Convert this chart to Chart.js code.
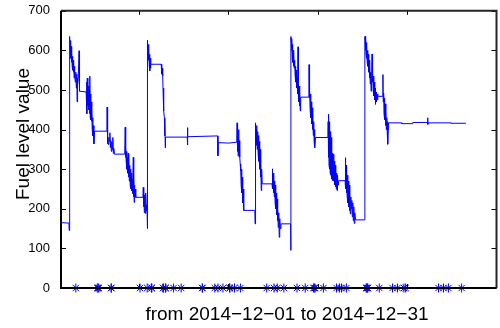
<!DOCTYPE html>
<html>
<head>
<meta charset="utf-8">
<script src="https://cdn.jsdelivr.net/npm/chart.js@4.4.1/dist/chart.umd.min.js"></script>
<style>
    html, body { margin: 0; padding: 0; background: #fff; overflow: hidden; }
    canvas { display: block; }
</style>
</head>
<body>
<canvas id="fuelChart" width="502" height="328"></canvas>
<script>
'use strict';

// time index (t) and fuel level readings, one array per tank cycle
var cycle1 = [
    [0, 165], [8, 164], [8.3, 145], [8.5, 635],
    [9, 630], [9.3, 600], [9.6, 625], [10, 580], [10.3, 610], [10.6, 570], [11, 595], [11.3, 560],
    [11.6, 585], [12, 550], [12.3, 575], [12.6, 545], [13, 570], [13.3, 530], [13.6, 560], [14, 540],
    [14.5, 520], [15, 545], [15.5, 505], [16, 540], [16.3, 470], [16.6, 530], [17, 515], [17.5, 530],
    [18.3, 599], [18.5, 510], [19, 497], [25.5, 495],
    [26, 520], [26.3, 440], [26.6, 530], [27, 460], [27.3, 525], [27.6, 470], [28, 510], [28.3, 450],
    [28.6, 500], [29, 440], [29.3, 535], [29.6, 430], [30, 490], [30.3, 425], [30.6, 470], [31, 421],
    [31.3, 455], [31.6, 400], [32, 430], [32.4, 384], [32.8, 410], [33.3, 364], [34, 396],
    [46.5, 396], [46.7, 457], [46.9, 364], [47.2, 390],
    [47.5, 385], [48, 362], [48.5, 380], [49, 370], [49.5, 392], [50, 355], [50.5, 372], [51, 345],
    [51.5, 368], [52, 350], [52.5, 380], [53, 340], [53.5, 352], [54, 338], [64.5, 338],
    [65, 406], [65.3, 330], [65.7, 355], [66, 320], [66.4, 345], [66.8, 300], [67.2, 330], [67.6, 290],
    [68, 340], [68.4, 280], [68.8, 325], [69.2, 270], [69.6, 310], [70, 262], [70.4, 300], [70.8, 250],
    [71.2, 290], [71.6, 245], [72, 275], [72.4, 238], [72.8, 260],
    [73.2, 330], [73.5, 230], [73.8, 283], [74.1, 216], [74.4, 260], [74.7, 228], [75.2, 250], [75.7, 229],
    [83, 229], [83.3, 254], [83.6, 205], [84, 245], [84.4, 190], [84.8, 235], [85.2, 200], [85.6, 188],
    [86, 240], [86.4, 195], [86.8, 210], [87.2, 190], [87.4, 150]
];

var cycle2 = [
    [87.4, 626], [87.6, 610], [87.9, 626], [88.2, 590], [88.5, 615], [88.8, 575], [89.1, 605], [89.4, 560],
    [89.7, 590], [90, 548], [90.4, 580], [90.7, 555], [91, 565], [101.5, 565],
    [102, 540], [102.5, 555], [103, 535], [103.3, 505], [103.6, 450], [104, 490], [104.3, 447],
    [104.7, 430], [105, 384], [105.3, 420], [105.6, 354], [105.8, 381],
    [127.8, 381], [128, 405], [128.2, 361], [128.5, 382], [158.7, 384],
    [158.9, 334], [159.2, 367], [170, 366], [177.5, 368],
    [178, 372], [178.3, 417], [178.6, 345], [179, 410], [179.4, 333], [179.8, 400], [180.2, 340],
    [180.6, 372], [181, 330], [181.5, 313], [182, 295], [182.4, 260], [182.8, 300], [183.2, 240],
    [183.6, 280], [184, 215], [184.4, 250], [184.8, 203], [185.3, 196], [196.3, 196], [196.5, 162]
];

var cycle3 = [
    [196.7, 417], [197, 380], [197.3, 346], [197.6, 400], [198, 360], [198.4, 410], [198.8, 350],
    [199.2, 395], [199.6, 340], [200, 385], [200.4, 320], [200.8, 370], [201.2, 300], [201.6, 350],
    [202, 280], [202.4, 330], [202.8, 246], [203.2, 300], [203.7, 263], [213.7, 263],
    [214, 301], [214.4, 250], [214.8, 290], [215.2, 240], [215.6, 285], [216, 230], [216.4, 270],
    [216.8, 215], [217.2, 260], [217.6, 200], [218, 240], [218.4, 185], [218.8, 225], [219.2, 170],
    [219.6, 200], [220, 153], [220.5, 190], [221, 128], [221.5, 175], [222, 150], [222.7, 162],
    [232.5, 162], [232.7, 95]
];

var cycle4 = [
    [232.9, 635], [233.2, 620], [233.5, 600], [233.8, 630], [234.1, 585], [234.4, 615], [234.7, 570],
    [235, 600], [235.4, 560], [235.8, 590], [236.2, 555], [236.6, 575], [237, 540], [237.4, 560],
    [237.8, 520], [238.2, 550], [238.6, 505], [239, 530], [239.4, 490], [239.8, 520], [240, 609],
    [240.3, 500], [240.7, 470], [241.1, 510], [241.5, 460], [241.9, 495], [242.3, 447], [242.7, 482],
    [251, 482], [251.2, 564], [251.5, 480], [251.9, 500], [252.3, 450], [252.7, 490], [253.1, 430],
    [253.5, 470], [253.9, 415], [254.3, 455], [254.7, 400], [255.1, 440], [255.5, 385], [255.9, 420],
    [256.3, 370], [256.7, 400], [257.1, 354], [257.7, 380], [270.3, 380],
    [270.5, 420], [270.8, 330], [271.1, 439], [271.4, 310], [271.7, 420], [272, 300], [272.3, 410],
    [272.6, 290], [272.9, 395], [273.2, 285], [273.5, 380], [273.8, 280], [274.1, 360], [274.4, 275],
    [274.7, 340], [275, 271], [275.3, 320], [275.7, 290],
    [276, 338], [276.4, 270], [276.8, 320], [277.2, 260], [277.6, 310], [278, 255], [278.4, 300],
    [278.8, 250], [279.2, 290], [279.6, 246], [280, 285], [280.5, 260], [281, 271], [287.7, 271],
    [288, 329], [288.3, 250], [288.7, 310], [289, 240], [289.4, 300], [289.8, 230], [290.2, 285],
    [290.6, 215], [291, 270], [291.4, 205], [291.8, 260], [292.2, 195], [292.6, 240], [293, 187],
    [293.5, 230], [294, 200], [294.5, 221], [295, 180], [295.5, 215], [296, 170], [296.5, 205],
    [297, 163], [297.5, 190], [298.3, 172], [307.5, 172]
];

var cycle5 = [
    [307.7, 635], [308, 625], [308.3, 600], [308.6, 636], [308.9, 590], [309.2, 620], [309.5, 580],
    [309.8, 610], [310.1, 570], [310.4, 600], [310.8, 560], [311.2, 590], [311.6, 545], [312, 575],
    [312.4, 530], [312.8, 560], [313.2, 515], [313.6, 545], [314, 497], [314.5, 530], [315, 591],
    [315.3, 520], [315.7, 547], [316.1, 500], [316.5, 535], [316.9, 485], [317.3, 520], [317.7, 475],
    [318.1, 505], [318.5, 464], [319, 495], [319.5, 470], [320, 490], [320.5, 475], [321, 484],
    [325.7, 484], [326, 539], [326.3, 470], [326.7, 492], [327.1, 440], [327.5, 480], [327.9, 425],
    [328.3, 465], [328.7, 410], [329.1, 450], [329.5, 400], [329.9, 430], [330.3, 396], [330.7, 420],
    [331, 363], [331.3, 400], [331.7, 417], [345, 417], [345.2, 415], [356, 415], [356.2, 418],
    [371, 418], [371.3, 430], [371.5, 413], [371.7, 417], [395, 417], [395.2, 416], [410, 416]
];

// times of logged events, drawn on the zero line
var eventTimes = [
    15, 36.7, 37.5, 38.3, 50.7, 51, 80, 87.3, 91.7, 92, 103.3, 103.6, 105.7, 106, 114, 121.7,
    143, 143.3, 155.7, 159, 164, 170.7, 171, 175.7, 181.7, 208.3, 215.7, 219, 225.7,
    239, 247.3, 255.7, 256.5, 257.3, 265.7, 279, 282, 284, 289, 309, 309.5, 310.2, 310.7,
    322.3, 335.7, 340.7, 347.3, 349, 382.3, 387.3, 392.3, 405.7
];

var xTickValues = [79, 169.5, 260, 350.5];
var yTickStep = 100;

var xLabel = 'from 2014\u221212\u221201 to 2014\u221212\u221231';
var yLabel = 'Fuel level value';

var fontFamily = '"Liberation Sans", Arial, Helvetica, sans-serif';

function toPoints(rows) {
    return rows.map(function (r) { return {x: r[0], y: r[1]}; });
}

var fuelPoints = [].concat(
    toPoints(cycle1), toPoints(cycle2), toPoints(cycle3), toPoints(cycle4), toPoints(cycle5)
);
var eventPoints = eventTimes.map(function (t) { return {x: t, y: 0}; });

// box around the plot with inward tick marks on all four sides, plus axis labels
var axesBox = {
    id: 'axesBox',
    afterDraw: function (chart) {
        var ctx = chart.ctx;
        var a = chart.chartArea;
        var xs = chart.scales.x, ys = chart.scales.y;
        ctx.save();
        ctx.strokeStyle = '#000';
        ctx.lineWidth = 1;
        xs.ticks.forEach(function (tk) {
            var px = Math.round(xs.getPixelForValue(tk.value)) + 0.5;
            ctx.beginPath();
            ctx.moveTo(px, a.top); ctx.lineTo(px, a.top + 4);
            ctx.moveTo(px, a.bottom); ctx.lineTo(px, a.bottom - 4);
            ctx.stroke();
        });
        ys.ticks.forEach(function (tk) {
            var py = Math.round(ys.getPixelForValue(tk.value)) + 0.5;
            ctx.beginPath();
            ctx.moveTo(a.left, py); ctx.lineTo(a.left + 5, py);
            ctx.moveTo(a.right, py); ctx.lineTo(a.right - 5, py);
            ctx.stroke();
        });
        ctx.lineWidth = 2;
        ctx.strokeStyle = '#262626';
        ctx.beginPath();
        ctx.moveTo(a.left, a.top); ctx.lineTo(a.right, a.top); ctx.lineTo(a.right, a.bottom);
        ctx.stroke();
        ctx.strokeStyle = '#000';
        ctx.beginPath();
        ctx.moveTo(a.left, a.top); ctx.lineTo(a.left, a.bottom); ctx.lineTo(a.right, a.bottom);
        ctx.stroke();

        ctx.fillStyle = '#000';
        ctx.font = '19px ' + fontFamily;
        ctx.textAlign = 'center';
        ctx.textBaseline = 'alphabetic';
        ctx.fillText(xLabel, 287, 319.5);
        ctx.translate(29, 134);
        ctx.rotate(-Math.PI / 2);
        ctx.fillText(yLabel, 0, 0);
        ctx.restore();
    }
};

var chartElement = document.getElementById('fuelChart').getContext('2d');
var chartObject = new Chart(chartElement, {
    type: 'scatter',
    data: {
        datasets: [
            {
                label: 'Fuel level',
                data: fuelPoints,
                showLine: true,
                borderColor: '#0000ff',
                borderWidth: 1,
                pointRadius: 0,
                tension: 0,
                order: 2
            },
            {
                label: 'Events',
                data: eventPoints,
                showLine: false,
                pointStyle: 'star',
                pointRadius: 4.5,
                borderColor: '#0000ff',
                backgroundColor: '#0000ff',
                pointBorderWidth: 1,
                clip: false,
                order: 1
            }
        ]
    },
    options: {
        responsive: false,
        animation: false,
        devicePixelRatio: 1,
        layout: {padding: {top: 8, right: 0, left: 0, bottom: 0}},
        plugins: {legend: {display: false}, tooltip: {enabled: false}},
        scales: {
            x: {
                type: 'linear',
                min: 0,
                max: 441,
                afterBuildTicks: function (scale) {
                    scale.ticks = xTickValues.map(function (v) { return {value: v}; });
                },
                afterFit: function (scale) { scale.height = 40; },
                grid: {display: false},
                border: {display: false},
                ticks: {display: false}
            },
            y: {
                min: 0,
                max: 700,
                afterFit: function (scale) { scale.width = 61; },
                grid: {display: false},
                border: {display: false},
                ticks: {
                    stepSize: yTickStep,
                    color: '#000',
                    padding: 3,
                    font: {family: fontFamily, size: 13}
                }
            }
        }
    },
    plugins: [axesBox]
});
</script>
</body>
</html>
